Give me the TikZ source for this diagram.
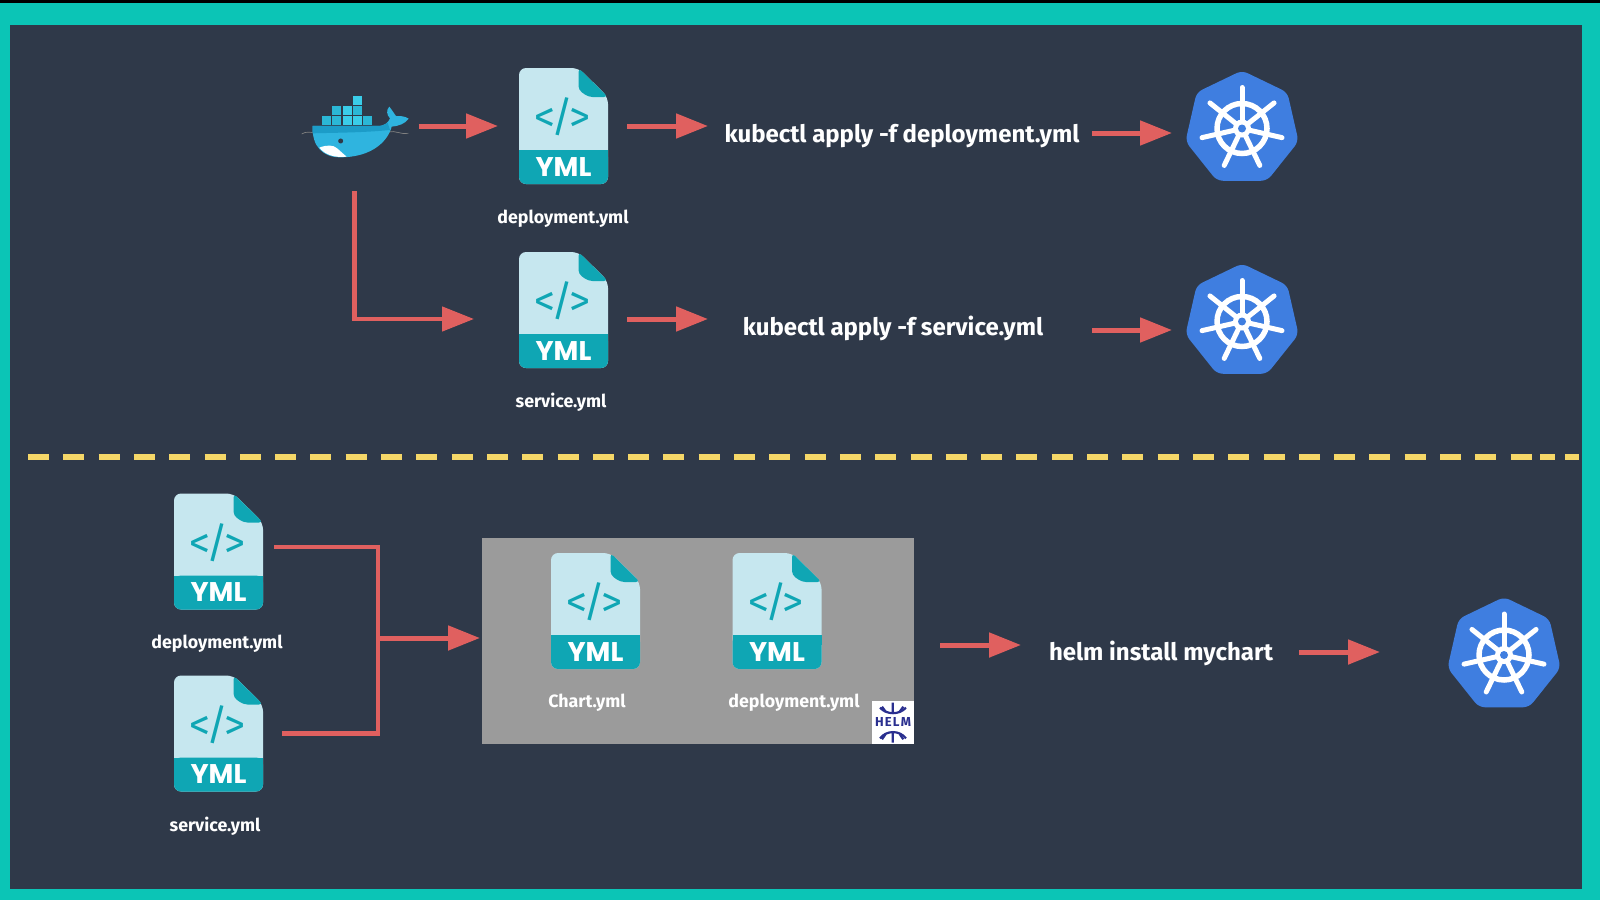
\documentclass[tikz,border=0pt]{standalone}
\usepackage{fontspec}
\setmainfont{Fira Sans}
\newfontfamily\ymlfont{Poppins}
\usetikzlibrary{arrows.meta}
\definecolor{framecol}{HTML}{0BC5B6}
\definecolor{panelcol}{HTML}{2F3949}
\definecolor{flowcol}{HTML}{E0605F}
\definecolor{dashcol}{HTML}{F5D768}
\definecolor{pagecol}{HTML}{C6E7EF}
\definecolor{tealcol}{HTML}{0FA6B4}
\definecolor{kubecol}{HTML}{3F7EE0}
\definecolor{greycol}{HTML}{9B9B9B}
\definecolor{helmcol}{HTML}{2A2F8F}
\definecolor{whaletop}{HTML}{1C9CC8}
\definecolor{whalelow}{HTML}{2FB4DF}
\definecolor{boxa}{HTML}{2BB7D6}
\definecolor{boxb}{HTML}{3ACDE9}
\tikzset{
  flow/.style={draw=flowcol,line width=5pt,-{Triangle[length=32pt,width=24pt]},shorten <=0pt},
  wire/.style={draw=flowcol,line width=4.5pt,miter limit=10},
  anchorbox/.style={inner sep=0pt,outer sep=0pt,rectangle},
  maintext/.style={anchorbox,text=white,font=\fontsize{24}{28}\selectfont\bfseries,minimum height=30pt},
  smalltext/.style={anchorbox,text=white,font=\fontsize{17.8}{20}\selectfont\bfseries},
  ymlicon/.pic={
    \fill[pagecol,rounded corners=7pt] (-44.5,-58) -- (15,-58) -- (44.5,-29) -- (44.5,58) -- (-44.5,58) -- cycle;
    \fill[tealcol,rounded corners=7pt] (-44.5,24) -- (44.5,24) -- (44.5,58) -- (-44.5,58) -- cycle;
    \fill[tealcol] (-44.5,24) rectangle (44.5,34);
    \fill[tealcol,rounded corners=4pt] (15,-58) -- (44.5,-29) -- (25,-29) -- (15,-36) -- cycle;
    \node[anchorbox,text=tealcol,font=\fontsize{42}{44}\selectfont] at (-1,-9) {<\kern-4pt/\kern-4pt>};
    \node[anchorbox,text=white,font=\fontsize{27}{30}\selectfont\ymlfont\bfseries] at (0,41) {YML};
    \node[anchorbox,minimum width=89pt,minimum height=116pt] (-box) at (0,0) {};
  },
  kubeicon/.pic={
    \fill[kubecol,rounded corners=6pt] (-90:58) -- (-38.57:58) -- (12.86:58) -- (64.29:58) -- (115.71:58) -- (167.14:58) -- (218.57:58) -- cycle;
    \draw[white,line width=5.5pt] (0,0) circle[radius=25pt];
    \foreach \a in {-90,-38.57,12.86,64.29,115.71,167.14,218.57}{
      \draw[white,line width=5pt,line cap=round] (\a:6) -- (\a:41);
    }
    \fill[white] (0,0) circle[radius=9pt];
    \fill[kubecol] (0,0) circle[radius=4pt];
    \node[anchorbox,minimum width=110pt,minimum height=107pt] (-box) at (0,0) {};
  }
}
\begin{document}
\begin{tikzpicture}[x=1pt,y=-1pt]
\useasboundingbox (0,0) rectangle (1600,900);
\fill[framecol] (0,0) rectangle (1600,900);
\fill[black] (0,0) rectangle (1600,2.5);
\fill[panelcol] (10,25) rectangle (1582,889);
% docker whale
\begin{scope}[shift={(290,50)},x=0.3333pt,y=-0.3333pt]
  \draw[gray,line width=0.7pt] (35,252) .. controls (50,242) and (60,250) .. (75,246);
  \draw[gray,line width=0.7pt] (295,246) .. controls (315,240) and (335,255) .. (355,250);
  \foreach \cx/\cy/\cc in {95/198/boxa,127/198/boxa,158/198/boxb,190/198/boxb,220/198/boxa,127/169/boxa,158/169/boxb,190/169/boxa,190/138/boxb}{
    \fill[\cc] (\cx,\cy) rectangle ++(27,27);
  }
  \fill[whalelow] (68,228) -- (262,228) .. controls (285,228) and (295,218) .. (300,205) .. controls (290,195) and (288,180) .. (298,170) .. controls (306,180) and (312,190) .. (318,198) .. controls (330,198) and (345,198) .. (356,206) .. controls (345,222) and (325,228) .. (305,230) .. controls (295,270) and (250,322) .. (150,322) .. controls (100,322) and (65,290) .. (68,228) -- cycle;
  \fill[whaletop] (68,228) -- (262,228) .. controls (275,228) and (285,225) .. (293,218) -- (300,240) .. controls (220,248) and (140,248) .. (68,250) -- cycle;
  \fill[white] (88,293) .. controls (110,284) and (130,285) .. (140,294) .. controls (150,302) and (160,312) .. (170,320) .. controls (135,324) and (105,315) .. (88,293) -- cycle;
  \fill[panelcol] (152,273) circle[radius=2.5pt];
\end{scope}
\node[anchorbox,minimum width=104pt,minimum height=70pt] (docker) at (354.5,126) {};
% YAML icons
\pic (ymla) at (563.5,126) {ymlicon};
\pic (ymlb) at (563.5,310) {ymlicon};
% Kubernetes icons
\pic (kubea) at (1242,128.5) {kubeicon};
\pic (kubeb) at (1242,321.5) {kubeicon};
% top labels
\node[smalltext] (laba) at (563,219) {deployment.yml};
\node[smalltext] (labb) at (561,402) {service.yml};
\node[maintext,minimum width=380pt] (cmda) at (902,136) {kubectl apply -f deployment.yml};
\node[maintext,minimum width=380pt] (cmdb) at (893,328) {kubectl apply -f service.yml};
% top arrows
\draw[flow,shorten <=12pt,shorten >=21pt] (docker.east) -- (ymla-box.west);
\draw[flow,shorten <=19pt,shorten >=4pt] (ymla-box.east) -- (ymla-box.east -| cmda.west);
\draw[flow,shorten >=15pt] ([yshift=3pt]cmda.east) -- ([yshift=-4.5pt]kubea-box.west);
\draw[flow,shorten <=30pt,shorten >=45pt,line width=4.5pt] (docker.south) |- ([yshift=-9pt]ymlb-box.west);
\draw[flow,shorten <=19pt,shorten >=-5pt] ([yshift=-9pt]ymlb-box.east) -- ([yshift=9pt]cmdb.west);
\draw[flow,shorten <=9pt,shorten >=15pt] ([yshift=-2pt]cmdb.east) -- ([yshift=-8.5pt]kubeb-box.west);
% divider
\coordinate (dashl) at (28,457);
\coordinate (dashm) at (1532,457);
\coordinate (dashn) at (1540,457);
\coordinate (dashr) at (1579,457);
\draw[dashcol,line width=5.5pt,dash pattern=on 21pt off 14.3pt] (dashl) -- (dashm);
\draw[dashcol,line width=5.5pt,dash pattern=on 15pt off 10pt] (dashn) -- (dashr);
% chart box
\node[anchorbox,fill=greycol,minimum width=432pt,minimum height=206pt] (chart) at (698,641) {};
\pic (ymlc) at (218.5,551.5) {ymlicon};
\pic (ymld) at (218.5,733.5) {ymlicon};
\pic (ymle) at (595.5,611) {ymlicon};
\pic (ymlf) at (777,611) {ymlicon};
\node[smalltext] (labc) at (217,644) {deployment.yml};
\node[smalltext] (labd) at (215,826) {service.yml};
\node[smalltext] (labe) at (587,703) {Chart.yml};
\node[smalltext] (labf) at (794,703) {deployment.yml};
% helm badge
\node[anchorbox,fill=white,minimum width=42pt,minimum height=43pt] (helm) at (893,722) {};
\begin{scope}[shift={(720,660)},x=0.3333pt,y=-0.3333pt]
  \draw[helmcol,line width=2.2pt] (480,143) .. controls (500,165) and (538,165) .. (558,143);
  \draw[helmcol,line width=2.2pt] (518,160) -- (518,128) (497,155) -- (486,140) (539,155) -- (550,140);
  \draw[helmcol,line width=2.2pt] (480,235) .. controls (500,210) and (538,210) .. (558,235);
  \draw[helmcol,line width=2.2pt] (518,215) -- (518,248) (497,222) -- (486,238) (539,222) -- (550,238);
\end{scope}
\node[anchorbox,text=helmcol,font=\fontsize{13}{13}\selectfont\bfseries] at (893,722) {H\kern1.2pt E\kern1.2pt L\kern1.2pt M};
% bottom connectors
\coordinate (bus) at (378,638);
\draw[wire] ([yshift=4.5pt]ymlc-box.east) ++(11,0) -| (bus);
\draw[wire] (ymld-box.east) ++(19,0) -| (bus);
\draw[flow,shorten >=2pt] (bus) -- (bus -| chart.west);
\pic (kubec) at (1504,655) {kubeicon};
\node[maintext,minimum width=280pt] (cmdc) at (1161,653) {helm install mychart};
\draw[flow,shorten <=26pt] ([yshift=-4pt]chart.east) -- ([yshift=-4pt]chart.east -| cmdc.west);
\draw[flow,shorten <=-2pt,shorten >=69pt] ([yshift=1pt]cmdc.east) -- ([yshift=1pt]cmdc.east -| kubec-box.west);
\end{tikzpicture}
\end{document}
